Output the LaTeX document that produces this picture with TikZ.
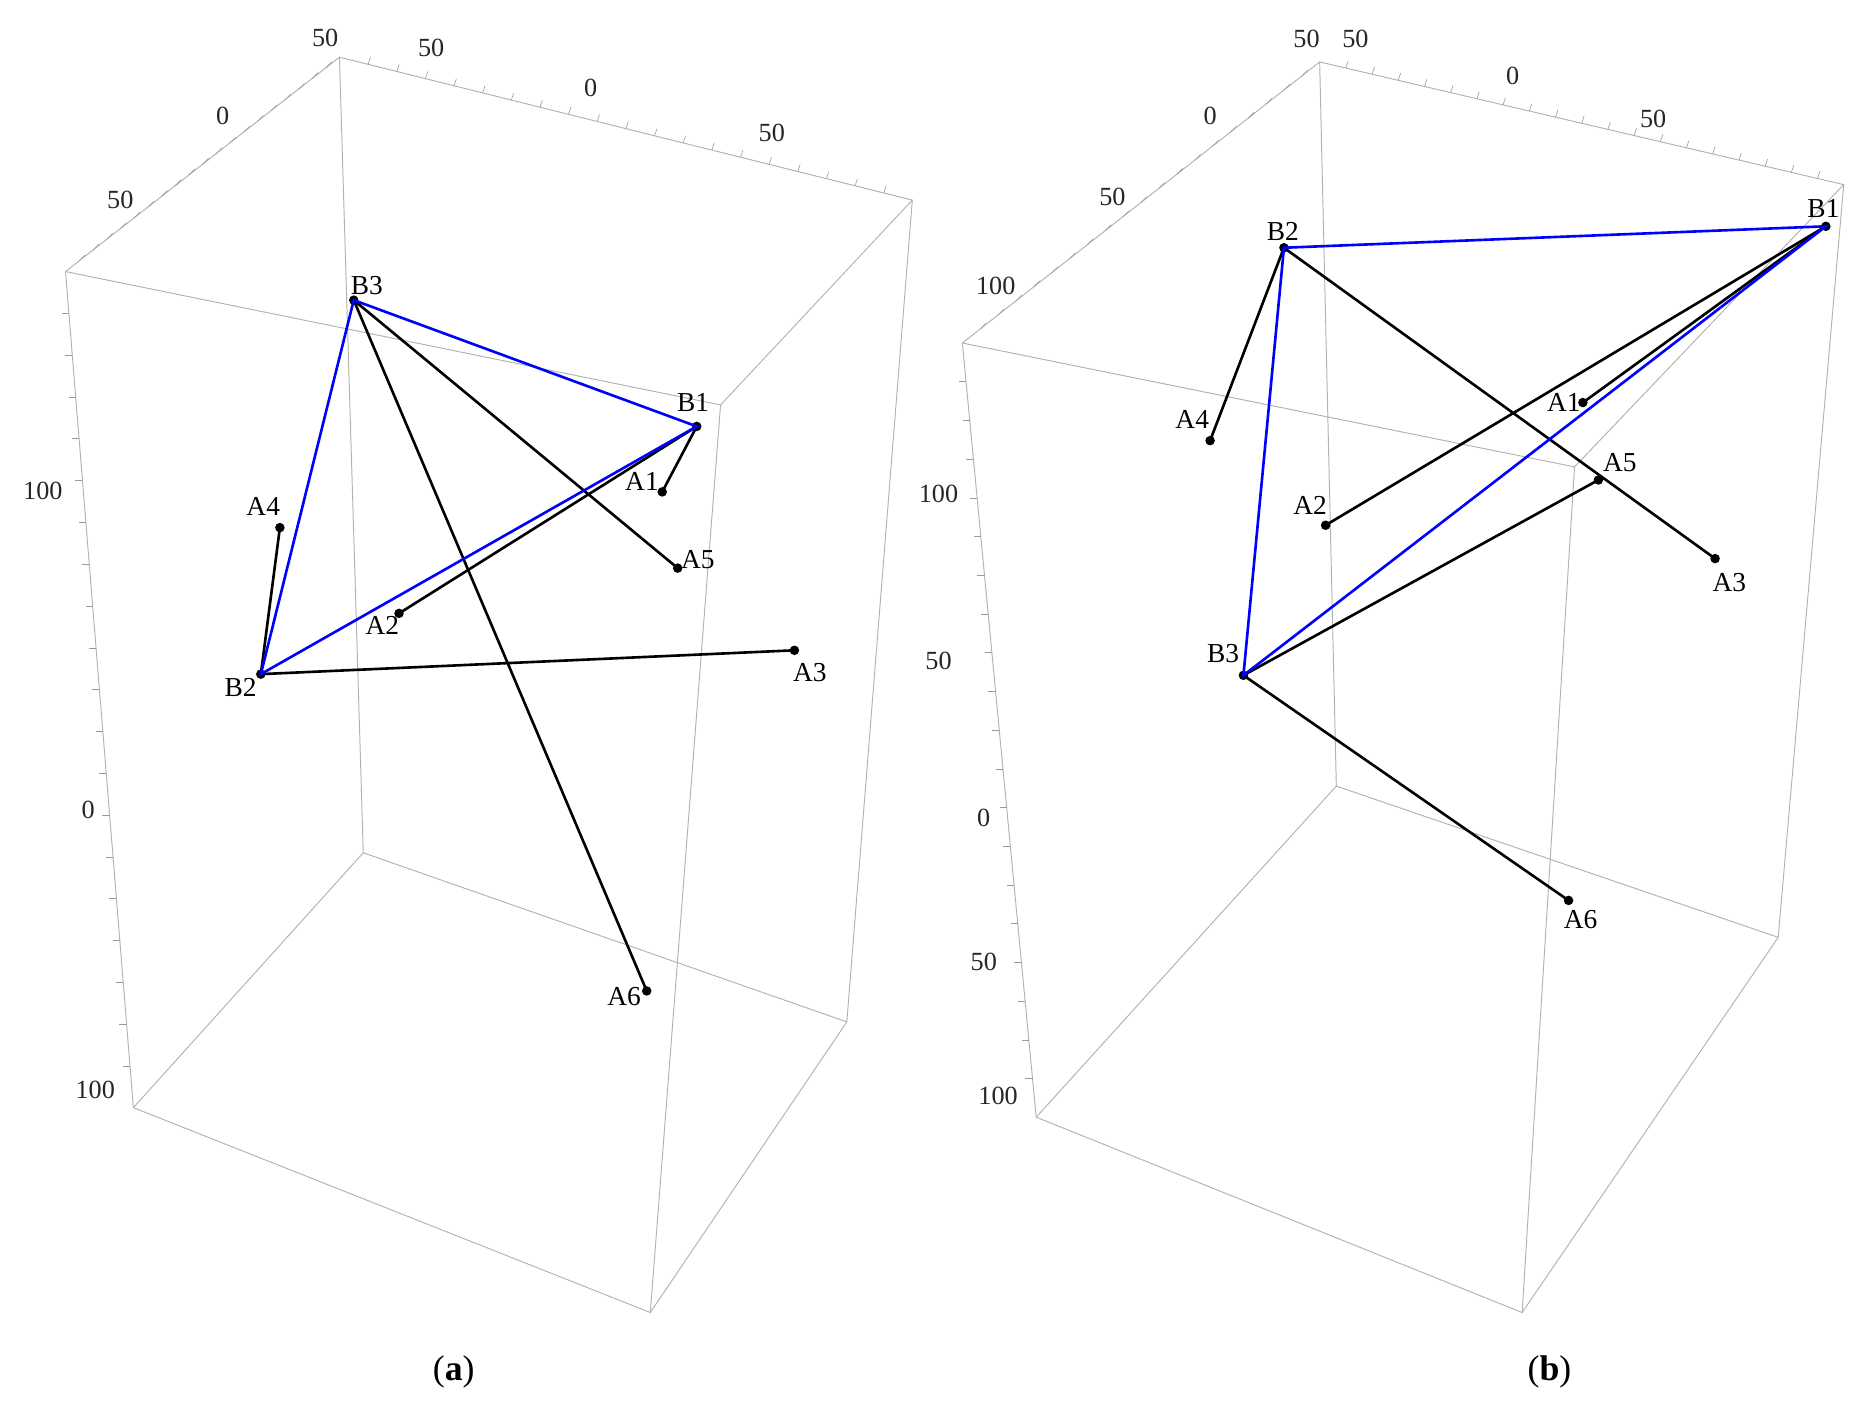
\documentclass[tikz,border=0pt]{standalone}
\usepackage{fontspec}
\setmainfont{Liberation Serif}
\usetikzlibrary{calc}
\begin{document}
\begin{tikzpicture}[x=0.5pt,y=-0.5pt,
  box/.style={draw=black!30,line width=0.4pt},
  tk/.style={draw=black!40,line width=0.25pt},
  blu/.style={draw=blue,line width=1.1pt},
  blk/.style={draw=black,line width=1.1pt},
  pt/.style={circle,fill=black,inner sep=0pt,minimum size=4pt},
  lab/.style={font=\fontsize{11.5}{13}\selectfont},
  tl/.style={font=\fontsize{11}{13}\selectfont,text=black!85}]
\useasboundingbox (0,0) rectangle (1560,1184);
% ---------- box (a)
\coordinate (a1) at (285,48); \coordinate (a2) at (55,228); \coordinate (a3) at (766,168);
\coordinate (a4) at (605,340); \coordinate (a5) at (305,716); \coordinate (a6) at (112,930);
\coordinate (a7) at (711,858); \coordinate (a8) at (546,1102);
\draw[box] (a2)--(a1)--(a3)--(a4)--(a2)--(a6)--(a8)--(a7)--(a3);
\draw[box] (a4)--(a8); \draw[box] (a1)--(a5)--(a6); \draw[box] (a5)--(a7);
\foreach \t in {0.05,0.1,...,0.96} {\draw[tk] ($(a2)!\t!(a1)$) -- ++(5,-5);
  \draw[tk] ($(a1)!\t!(a3)$) -- ++(2,-6); \draw[tk] ($(a2)!\t!(a6)$) -- ++(-6,0);}
\node[tl] at (273,32) {50}; \node[tl] at (362,40) {50}; \node[tl] at (496,74) {0};
\node[tl] at (648,112) {50}; \node[tl] at (187,97) {0}; \node[tl] at (101,168) {50};
\node[tl] at (36,412) {100}; \node[tl] at (74,680) {0}; \node[tl] at (80,915) {100};
% points (a)
\node[pt] (aB3) at (297,252) {}; \node[pt] (aB1) at (585,358) {}; \node[pt] (aB2) at (219,566) {};
\node[pt] (aA4) at (235,443) {}; \node[pt] (aA1) at (556,413) {}; \node[pt] (aA5) at (569,477) {};
\node[pt] (aA2) at (335,515) {}; \node[pt] (aA3) at (667,546) {}; \node[pt] (aA6) at (543,832) {};
\draw[blk] (aB3.center)--(aA5.center); \draw[blk] (aB3.center)--(aA6.center);
\draw[blk] (aB1.center)--(aA1.center); \draw[blk] (aB1.center)--(aA2.center);
\draw[blk] (aB2.center)--(aA4.center); \draw[blk] (aB2.center)--(aA3.center);
\draw[blu] (aB3.center)--(aB1.center)--(aB2.center)--cycle;
\node[lab] at (308,240) {B3}; \node[lab] at (582,338) {B1}; \node[lab] at (539,404) {A1};
\node[lab] at (586,470) {A5}; \node[lab] at (221,425) {A4}; \node[lab] at (321,525) {A2};
\node[lab] at (202,577) {B2}; \node[lab] at (680,565) {A3}; \node[lab] at (524,837) {A6};
% ---------- box (b)
\coordinate (b1) at (1108,52); \coordinate (b2) at (808,288); \coordinate (b3) at (1548,155);
\coordinate (b4) at (1322,392); \coordinate (b5) at (1122,660); \coordinate (b6) at (870,938);
\coordinate (b7) at (1493,787); \coordinate (b8) at (1278,1102);
\draw[box] (b2)--(b1)--(b3)--(b4)--(b2)--(b6)--(b8)--(b7)--(b3);
\draw[box] (b4)--(b8); \draw[box] (b1)--(b5)--(b6); \draw[box] (b5)--(b7);
\foreach \t in {0.05,0.1,...,0.96} {\draw[tk] ($(b2)!\t!(b1)$) -- ++(5,-5);
  \draw[tk] ($(b1)!\t!(b3)$) -- ++(2,-6); \draw[tk] ($(b2)!\t!(b6)$) -- ++(-6,0);}
\node[tl] at (1097,33) {50}; \node[tl] at (1138,33) {50}; \node[tl] at (1270,64) {0};
\node[tl] at (1388,100) {50}; \node[tl] at (1016,97) {0}; \node[tl] at (934,165) {50};
\node[tl] at (836,240) {100}; \node[tl] at (788,415) {100}; \node[tl] at (788,555) {50};
\node[tl] at (826,687) {0}; \node[tl] at (826,808) {50}; \node[tl] at (838,920) {100};
% points (b)
\node[pt] (bB2) at (1078,208) {}; \node[pt] (bB1) at (1533,190) {}; \node[pt] (bB3) at (1044,567) {};
\node[pt] (bA4) at (1016,370) {}; \node[pt] (bA1) at (1329,338) {}; \node[pt] (bA2) at (1113,441) {};
\node[pt] (bA5) at (1342,403) {}; \node[pt] (bA3) at (1440,469) {}; \node[pt] (bA6) at (1317,756) {};
\draw[blk] (bB2.center)--(bA4.center); \draw[blk] (bB2.center)--(bA3.center);
\draw[blk] (bB1.center)--(bA1.center); \draw[blk] (bB1.center)--(bA2.center);
\draw[blk] (bB3.center)--(bA5.center); \draw[blk] (bB3.center)--(bA6.center);
\draw[blu] (bB2.center)--(bB1.center)--(bB3.center)--cycle;
\node[lab] at (1077,194) {B2}; \node[lab] at (1531,175) {B1}; \node[lab] at (1313,338) {A1};
\node[lab] at (1360,388) {A5}; \node[lab] at (1001,352) {A4}; \node[lab] at (1100,424) {A2};
\node[lab] at (1027,549) {B3}; \node[lab] at (1452,489) {A3}; \node[lab] at (1327,772) {A6};
% captions
\node[font=\fontsize{15}{17}\selectfont] at (381,1152) {(\textbf{a})};
\node[font=\fontsize{15}{17}\selectfont] at (1301,1152) {(\textbf{b})};
\end{tikzpicture}
\end{document}
